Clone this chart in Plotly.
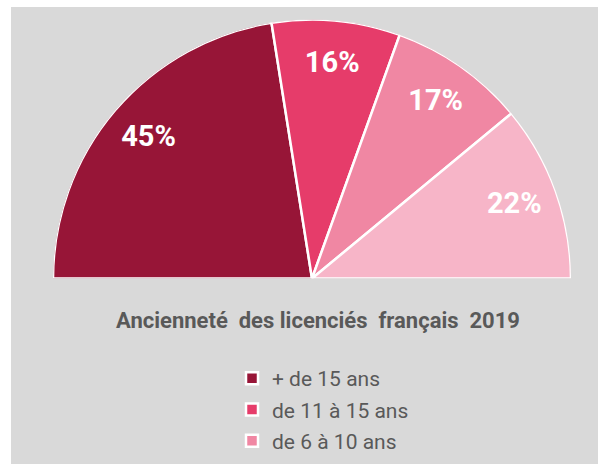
import plotly.graph_objects as go

categories = ["+ de 15 ans", "de 11 à 15 ans", "de 6 à 10 ans", "- de 5 ans"]
shares = [45, 16, 17, 22]
labels = ["45%", "16%", "17%", "22%"]
colors = ["#971537", "#e63c6a", "#f087a3", "#f7b5c8"]
legend_shown = [True, True, True, False]
title_text = "Ancienneté  des licenciés  français  2019"

W, H = 598, 464
FONT = "Roboto, Liberation Sans, sans-serif"

total = sum(shares)
fig = go.Figure()
cum = 0
centers = []
for cat, v, col, show in zip(categories, shares, colors, legend_shown):
    centers.append(180.0 * (cum + v / 2) / total)
    fig.add_trace(go.Barpolar(
        r=[1], theta=[180.0 * (cum + v / 2) / total], width=[180.0 * v / total],
        name=cat, legendgroup=cat, showlegend=show,
        marker=dict(color=col, line=dict(color="white", width=2.5)),
        hoverinfo="skip",
    ))
    cum += v

fig.add_trace(go.Scatterpolar(
    r=[0.83] * len(shares), theta=centers, mode="text", text=labels,
    textfont=dict(family=FONT, size=29, color="white", weight="bold"),
    showlegend=False, hoverinfo="skip",
))

fig.update_layout(
    width=W, height=H,
    margin=dict(l=0, r=0, t=0, b=0, autoexpand=False),
    paper_bgcolor="white",
    polar=dict(
        sector=[0, 180], hole=0, bgcolor="rgba(0,0,0,0)",
        domain=dict(x=[53 / W, 571 / W], y=[1 - 279 / H, 1 - 19 / H]),
        radialaxis=dict(visible=False, range=[0, 1]),
        angularaxis=dict(visible=False, direction="clockwise", rotation=180),
    ),
    shapes=[dict(type="rect", xref="paper", yref="paper", x0=11 / W, x1=1,
                 y0=0, y1=1 - 7 / H, fillcolor="#d9d9d9", line=dict(width=0),
                 layer="below")],
    annotations=[dict(text=title_text, xref="paper", yref="paper",
                      x=318 / W, y=1 - 320 / H, xanchor="center", yanchor="middle",
                      showarrow=False,
                      font=dict(family=FONT, size=22, color="#595959", weight="bold"))],
    showlegend=True,
    legend=dict(x=232 / W, y=1 - 358 / H, xanchor="left", yanchor="top",
                bgcolor="rgba(0,0,0,0)", tracegroupgap=1,
                font=dict(family=FONT, size=21, color="#595959")),
)

fig.write_html("out.html", config={"displayModeBar": False},
               post_script="document.body.style.margin='0';document.body.style.overflow='hidden';")
